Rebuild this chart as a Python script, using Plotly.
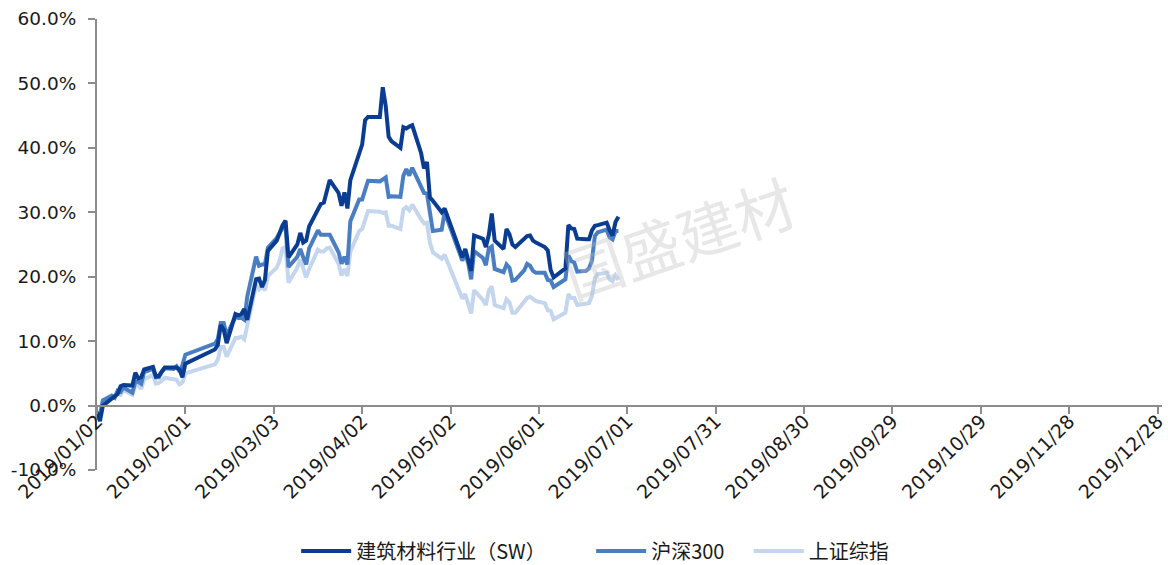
import plotly.graph_objects as go

dates = (
    ["2019-01-%02d" % d for d in [2, 3, 4, 7, 8, 9, 10, 11, 14, 15, 16, 17, 18, 21, 22, 23, 24, 25, 28, 29, 30, 31]]
    + ["2019-02-%02d" % d for d in [1, 11, 12, 13, 14, 15, 18, 19, 20, 21, 22, 25, 26, 27, 28]]
    + ["2019-03-%02d" % d for d in [1, 4, 5, 6, 7, 8, 11, 12, 13, 14, 15, 18, 19, 20, 21, 22, 25, 26, 27, 28, 29]]
    + ["2019-04-%02d" % d for d in [1, 2, 3, 4, 8, 9, 10, 11, 12, 15, 16, 17, 18, 19, 22, 23, 24, 25, 26, 29, 30]]
    + ["2019-05-%02d" % d for d in [6, 7, 8, 9, 10, 13, 14, 15, 16, 17, 20, 21, 22, 23, 24, 27, 28, 29, 30, 31]]
    + ["2019-06-%02d" % d for d in [3, 4, 5, 6, 10, 11, 12, 13, 14, 17, 18, 19, 20, 21, 24, 25, 26, 27, 28]]
)

# 建筑材料行业（SW） cumulative return, %
jiancai = [
    -1.0, -2.4, 0.0, 1.0, 1.3, 1.8, 3.0, 3.2, 3.1, 5.1, 4.2, 4.4, 5.6, 6.0, 4.5, 4.6, 5.3, 5.9, 5.9, 5.9, 5.6, 4.4,
    6.5, 8.7, 9.4, 12.5, 11.8, 9.7, 14.2, 14.0, 14.2, 15.0, 13.3, 19.6, 19.7, 18.4, 19.5,
    24.0, 25.6, 27.0, 28.0, 28.7, 23.0, 25.0, 26.8, 25.3, 25.6, 27.8, 30.3, 31.3, 31.5, 33.5, 35.0, 33.0, 31.0, 33.1, 30.6, 35.0,
    39.3, 40.5, 44.3, 44.8, 44.8, 49.4, 46.5, 41.7, 41.0, 40.0, 43.2, 43.0, 43.3, 43.5, 39.2, 36.8, 37.8, 32.3, 31.8, 30.0, 30.6,
    23.0, 24.3, 22.5, 20.9, 26.4, 25.9, 24.6, 26.5, 29.8, 25.6, 24.3, 27.4, 26.6, 25.0, 24.6, 25.8, 26.3, 26.4, 25.6, 25.3,
    24.6, 24.1, 21.0, 19.9, 21.3, 28.0, 27.5, 27.4, 25.9, 25.8, 25.8, 27.2, 27.9, 28.0, 28.4, 27.2, 26.4, 28.5, 29.3,
]

# 沪深300, %
hs300 = [
    -1.4, -1.5, 0.8, 1.5, 1.2, 2.3, 2.1, 2.8, 2.0, 3.7, 3.7, 3.4, 5.2, 5.7, 4.4, 4.4, 5.2, 5.8, 5.7, 6.1, 5.3, 6.3,
    7.9, 9.6, 10.3, 12.8, 12.8, 10.9, 13.8, 13.6, 13.6, 13.3, 16.9, 23.1, 21.7, 21.9, 21.9,
    24.5, 26.0, 26.7, 27.6, 27.7, 21.5, 23.1, 24.3, 23.0, 21.9, 24.4, 27.2, 26.5, 26.5, 26.6, 26.5, 23.8, 22.0, 23.1, 21.9, 28.6,
    32.0, 32.0, 33.6, 34.9, 34.8, 35.1, 35.4, 32.4, 32.5, 32.4, 35.7, 36.7, 35.7, 36.9, 34.2, 33.0, 32.9, 29.6, 27.1, 27.3, 30.0,
    22.5, 23.6, 22.1, 19.6, 24.0, 22.9, 21.8, 24.4, 24.7, 21.2, 20.7, 21.9, 21.4, 19.4, 19.5, 21.0, 22.0, 21.7, 20.9, 20.6,
    20.6, 19.5, 19.4, 18.4, 19.6, 23.3, 22.4, 22.2, 20.8, 20.9, 21.3, 22.5, 26.3, 26.9, 27.3, 26.1, 25.8, 27.1, 27.1,
]

# 上证综指, %
szzz = [
    -1.2, -1.2, 0.8, 1.6, 1.3, 2.0, 1.7, 2.4, 1.7, 3.1, 3.1, 2.6, 4.1, 4.7, 3.4, 3.5, 3.9, 4.3, 4.1, 4.0, 3.3, 3.6,
    5.0, 6.4, 7.1, 9.1, 9.1, 7.6, 10.5, 10.5, 10.7, 10.3, 12.4, 18.7, 18.0, 18.4, 17.9,
    20.1, 21.4, 22.5, 24.4, 24.6, 19.1, 21.4, 22.7, 21.4, 19.9, 21.2, 24.2, 23.9, 23.9, 24.4, 24.5, 22.0, 20.2, 21.2, 20.1, 23.9,
    27.1, 27.4, 29.0, 30.2, 30.1, 29.9, 30.0, 27.9, 27.9, 27.4, 30.5, 30.8, 30.3, 31.2, 28.9, 28.3, 28.4, 25.3, 23.8, 22.8, 23.4,
    16.6, 17.3, 16.0, 14.3, 17.9, 16.4, 15.6, 17.8, 18.5, 15.6, 15.1, 16.5, 16.0, 14.4, 14.4, 16.0, 16.7, 16.9, 16.5, 16.2,
    15.9, 14.8, 14.7, 13.4, 14.4, 17.3, 16.7, 16.7, 15.6, 15.8, 15.9, 17.0, 19.8, 20.4, 20.6, 19.6, 19.3, 20.2, 19.5,
]

series_names = ["建筑材料行业（SW）", "沪深300", "上证综指"]
series_colors = ["#0A3D92", "#4A7EC3", "#C4D5EE"]
legend_ids = ["legend", "legend2", "legend3"]
legend_x = [0.187, 0.464, 0.612]

x_tickvals = ["2019-01-02", "2019-02-01", "2019-03-03", "2019-04-02", "2019-05-02", "2019-06-01",
              "2019-07-01", "2019-07-31", "2019-08-30", "2019-09-29", "2019-10-29", "2019-11-28", "2019-12-28"]
x_ticktext = [d.replace("-", "/") for d in x_tickvals]
y_tickvals = [-10, 0, 10, 20, 30, 40, 50, 60]
y_ticktext = ["-10.0%", "0.0%", "10.0%", "20.0%", "30.0%", "40.0%", "50.0%", "60.0%"]

fig = go.Figure()
# draw order: light at bottom, dark on top
for i in [2, 1, 0]:
    vals = [jiancai, hs300, szzz][i]
    fig.add_trace(go.Scatter(x=dates, y=vals, name=series_names[i], mode="lines",
                             line=dict(color=series_colors[i], width=4),
                             legend=legend_ids[i]))

axis_color = "#8C8C8C"
leg_common = dict(orientation="h", xanchor="left", yref="container", y=0.025, yanchor="middle",
                  font=dict(family="Noto Sans CJK SC", size=20, color="#1a1a1a"),
                  itemwidth=50, bgcolor="rgba(0,0,0,0)")
layout_legends = {}
for lid, lx in zip(legend_ids, legend_x):
    layout_legends[lid] = dict(leg_common, x=lx)

fig.update_layout(
    width=1168, height=565,
    margin=dict(l=97, r=6, t=19, b=95, autoexpand=False),
    paper_bgcolor="white", plot_bgcolor="white",
    font=dict(family="DejaVu Sans", size=18.5, color="#1a1a1a"),
    showlegend=True,
    xaxis=dict(type="date", range=["2019-01-02", "2019-12-29 12:00"],
               tickvals=x_tickvals, ticktext=x_ticktext, tickangle=-45,
               tickfont=dict(family="DejaVu Sans", size=19),
               showgrid=False, zeroline=False, showline=True, linecolor=axis_color, linewidth=2,
               ticks="outside", ticklen=7, tickcolor=axis_color, tickwidth=2,
               ticklabelstandoff=-11, ticklabeloverflow="allow", automargin=False,
               anchor="free", position=1 / 7),
    yaxis=dict(range=[-10, 60], tickvals=y_tickvals, ticktext=y_ticktext,
               showgrid=False, zeroline=False, showline=True, linecolor=axis_color, linewidth=2,
               ticks="outside", ticklen=7, tickcolor=axis_color, tickwidth=2,
               ticklabelstandoff=8, automargin=False),
    annotations=[dict(text="国盛建材", xref="paper", yref="paper", x=0.546, y=0.52,
                      showarrow=False, textangle=-19,
                      font=dict(family="Noto Sans CJK SC", size=60, color="rgba(185,185,185,0.35)"))],
    **layout_legends,
)

fig.write_html("out.html")
